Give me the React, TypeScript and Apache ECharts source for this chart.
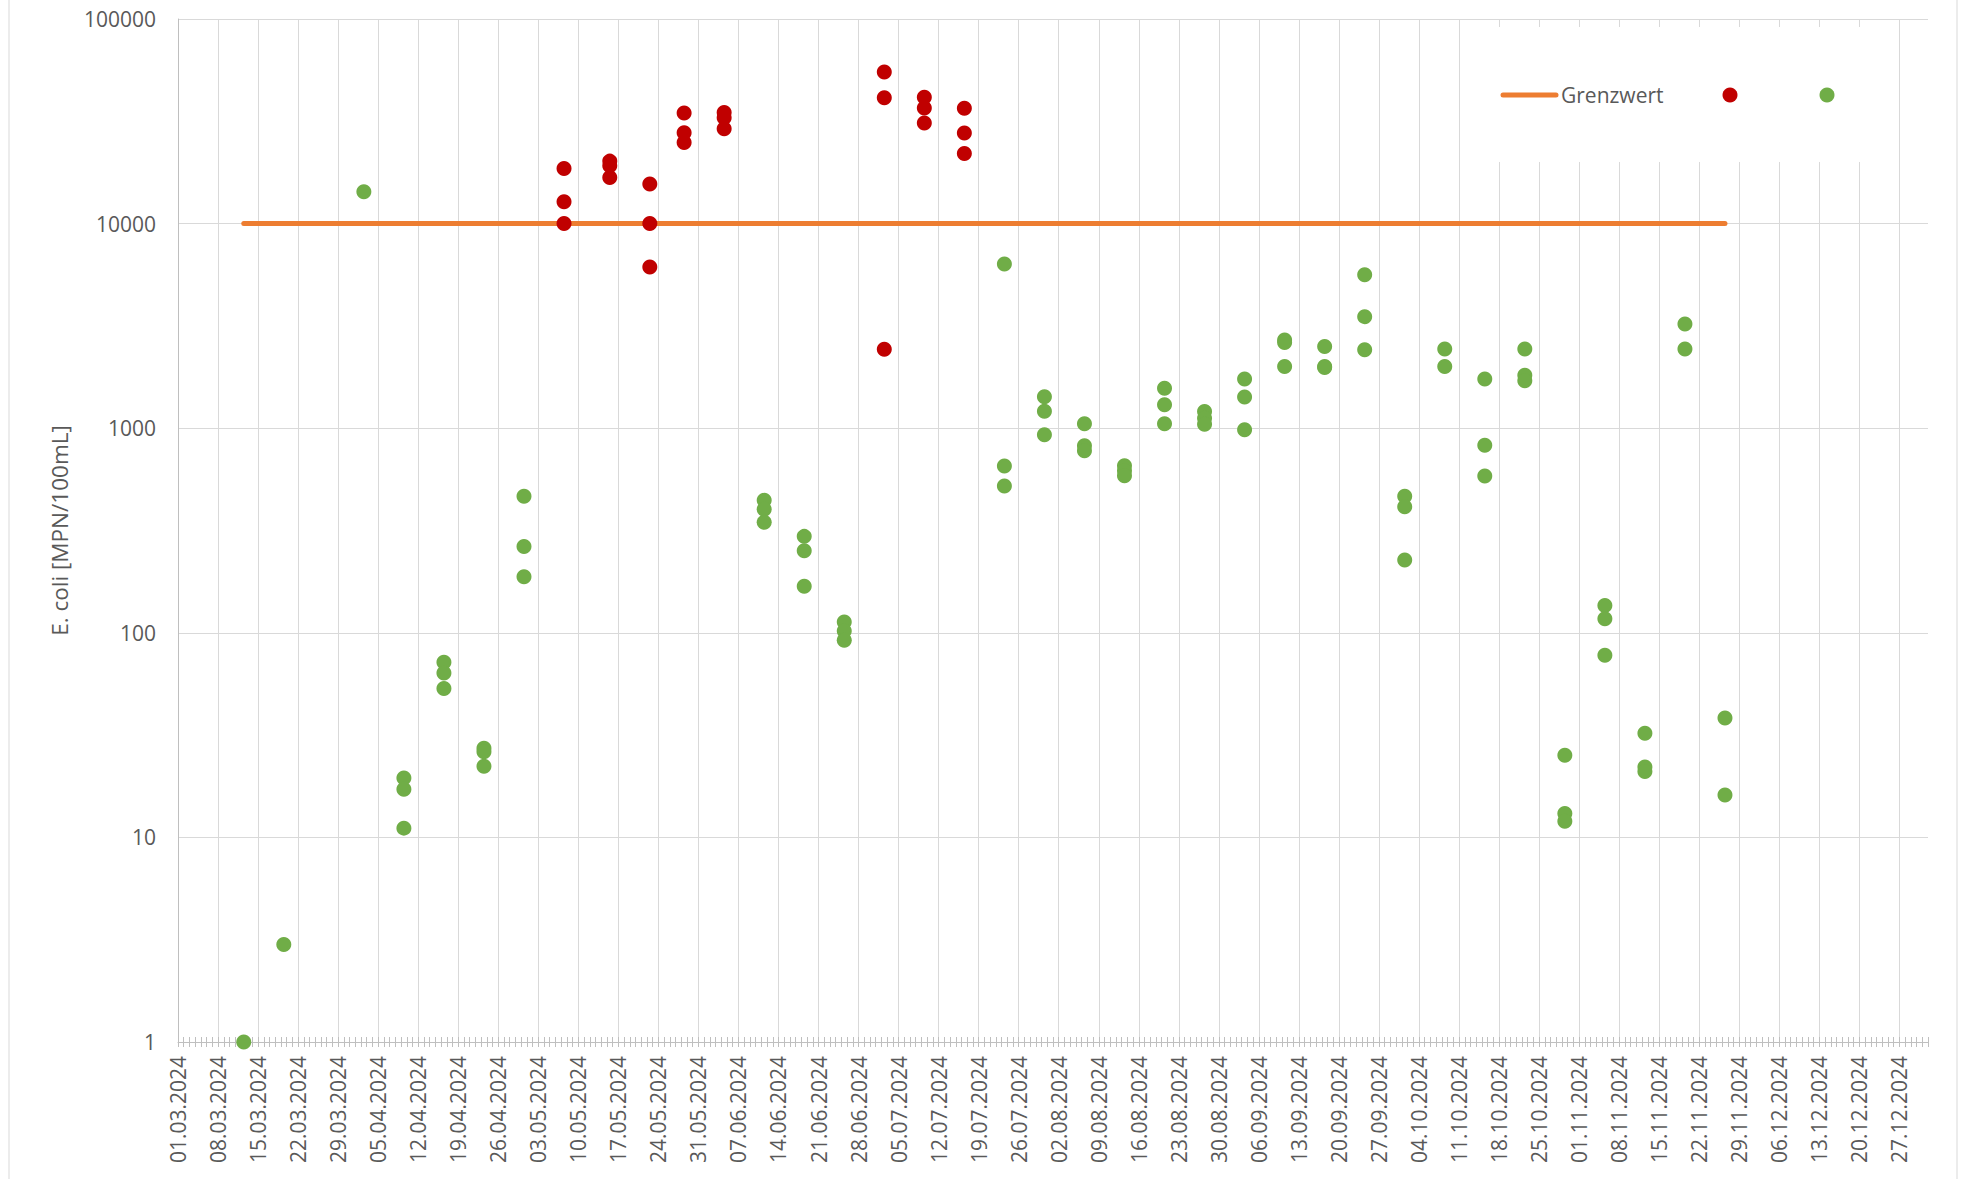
import { useEffect, useRef } from "react";
import * as echarts from "echarts";

const xStart = "01.03.2024";
const xEnd = "01.01.2025";
const weekStep = 7;
const yTicks = [1, 10, 100, 1000, 10000, 100000];
const yTitle = "E. coli [MPN/100mL]";
const limitName = "Grenzwert";
const limitValue = 10000;
const limitDates = ["12.03.2024", "26.11.2024"];

const redDates = [
  "07.05.2024", "15.05.2024", "22.05.2024", "28.05.2024",
  "04.06.2024", "02.07.2024", "09.07.2024", "16.07.2024",
];
const redValues = [
  [18600, 12800, 10000],
  [20200, 19200, 16800],
  [15600, 10000, 6130],
  [34700, 27800, 24900],
  [34900, 32900, 29100],
  [55100, 41200, 2430],
  [41400, 36700, 31000],
  [36600, 27700, 22000],
];

const greenDates = [
  "12.03.2024", "19.03.2024", "02.04.2024", "09.04.2024", "16.04.2024",
  "23.04.2024", "30.04.2024", "11.06.2024", "18.06.2024", "25.06.2024",
  "23.07.2024", "30.07.2024", "06.08.2024", "13.08.2024", "20.08.2024",
  "27.08.2024", "03.09.2024", "10.09.2024", "17.09.2024", "24.09.2024",
  "01.10.2024", "08.10.2024", "15.10.2024", "22.10.2024", "29.10.2024",
  "05.11.2024", "12.11.2024", "19.11.2024", "26.11.2024",
];
const greenValues = [
  [1],
  [3],
  [14300],
  [19.5, 17.2, 11.1],
  [71.7, 63.6, 53.4],
  [27.3, 26.2, 22.3],
  [465, 264, 188],
  [444, 402, 347],
  [296, 252, 169],
  [113, 102, 92],
  [6350, 654, 522],
  [1426, 1209, 929],
  [1052, 820, 775],
  [655, 620, 585],
  [1567, 1303, 1052],
  [1206, 1117, 1046],
  [1740, 1420, 983],
  [2700, 2620, 2000],
  [2510, 2000, 1980],
  [5625, 3510, 2420],
  [465, 413, 227],
  [2440, 2000],
  [1740, 825, 584],
  [2440, 1816, 1705],
  [25.2, 13.1, 12.0],
  [136, 117, 77.6],
  [32.3, 22.1, 21.0],
  [3230, 2440],
  [38.3, 16.1],
];

const DAY = 86400000;
function toUtc(s: string) {
  const [d, m, y] = s.split(".").map(Number);
  return Date.UTC(y, m - 1, d);
}
const origin = toUtc(xStart);
const totalDays = (toUtc(xEnd) - origin) / DAY;
// Excel date axis ("between tick marks"): a day's value sits in the middle of its day slot
const dayPos = (s: string) => (toUtc(s) - origin) / DAY + 0.5;
const pad = (n: number) => (n < 10 ? "0" + n : "" + n);
function fmtDay(v: number) {
  const d = new Date(origin + Math.round(v) * DAY);
  return pad(d.getUTCDate()) + "." + pad(d.getUTCMonth() + 1) + "." + d.getUTCFullYear();
}
function toPoints(dates: string[], vals: number[][]) {
  const out: number[][] = [];
  dates.forEach((d, i) => vals[i].forEach((v) => out.push([dayPos(d), v])));
  return out;
}

const FONT = "Open Sans";
const TXT = "#595959";
const GRID = "#d9d9d9";
const AXIS = "#bfbfbf";
const RED = "#C00000";
const GREEN = "#70AD47";
const ORANGE = "#ED7D31";

export default function App() {
  const ref = useRef<HTMLDivElement>(null);
  useEffect(() => {
    if (!ref.current) return;
    const chart = echarts.init(ref.current, null, { renderer: "svg" });
    const tickAxis = (inside: boolean) => ({
      type: "value",
      min: 0,
      max: totalDays,
      interval: 1,
      position: "bottom",
      axisLine: { show: false },
      axisTick: { show: true, inside, length: 5, lineStyle: { color: AXIS, width: 1 } },
      axisLabel: { show: false },
      splitLine: { show: false },
    });
    chart.setOption({
      animation: false,
      textStyle: { fontFamily: FONT },
      grid: { left: 178, right: 38, top: 19, bottom: 137 },
      xAxis: [
        {
          type: "value",
          min: 0,
          max: totalDays,
          interval: weekStep,
          position: "bottom",
          axisLine: { show: true, lineStyle: { color: AXIS, width: 1 } },
          axisTick: { show: false },
          splitLine: { show: true, showMaxLine: false, lineStyle: { color: GRID, width: 1 } },
          axisLabel: {
            rotate: 90,
            formatter: (v: number) => fmtDay(v),
            showMaxLabel: false,
            fontSize: 21,
            color: TXT,
            fontFamily: FONT,
            margin: 14,
          },
        },
        tickAxis(false),
        tickAxis(true),
      ],
      yAxis: {
        type: "log",
        logBase: 10,
        min: yTicks[0],
        max: yTicks[yTicks.length - 1],
        axisLine: { show: true, lineStyle: { color: AXIS, width: 1 } },
        axisTick: { show: false },
        splitLine: { show: true, lineStyle: { color: GRID, width: 1 } },
        axisLabel: {
          formatter: (v: number) => String(Math.round(v)),
          fontSize: 21,
          color: TXT,
          fontFamily: FONT,
          margin: 22,
        },
        name: yTitle,
        nameLocation: "middle",
        nameGap: 107,
        nameTextStyle: { fontSize: 22.5, color: TXT, fontFamily: FONT },
      },
      series: [
        {
          name: limitName,
          type: "line",
          xAxisIndex: 0,
          data: limitDates.map((d) => [dayPos(d), limitValue]),
          symbol: "none",
          lineStyle: { color: ORANGE, width: 5, cap: "round" },
          z: 2,
        },
        {
          name: "über Grenzwert",
          type: "scatter",
          xAxisIndex: 0,
          data: toPoints(redDates, redValues),
          symbolSize: 15,
          itemStyle: { color: RED, opacity: 1 },
          z: 3,
        },
        {
          name: "unter Grenzwert",
          type: "scatter",
          xAxisIndex: 0,
          data: toPoints(greenDates, greenValues),
          symbolSize: 15,
          itemStyle: { color: GREEN, opacity: 1 },
          z: 3,
        },
      ],
      graphic: [
        { type: "line", z: 1, shape: { x1: 9, y1: 0, x2: 9, y2: 1179 }, style: { stroke: GRID, lineWidth: 1 } },
        { type: "line", z: 1, shape: { x1: 1957, y1: 0, x2: 1957, y2: 1179 }, style: { stroke: GRID, lineWidth: 1 } },
        { type: "rect", z: 10, shape: { x: 1463, y: 27, width: 433, height: 135 }, style: { fill: "#ffffff" } },
        { type: "line", z: 11, shape: { x1: 1503, y1: 95, x2: 1556, y2: 95 }, style: { stroke: ORANGE, lineWidth: 5, lineCap: "round" } },
        { type: "text", z: 11, x: 1561, y: 95, style: { text: limitName, fontSize: 21, fontFamily: FONT, fill: TXT, verticalAlign: "middle", align: "left" } },
        { type: "circle", z: 11, shape: { cx: 1730, cy: 95, r: 7.5 }, style: { fill: RED } },
        { type: "circle", z: 11, shape: { cx: 1827, cy: 95, r: 7.5 }, style: { fill: GREEN } },
      ],
    });
    return () => chart.dispose();
  }, []);
  return (
    <div
      ref={ref}
      style={{ position: "fixed", left: 0, top: 0, width: 1966, height: 1179, background: "#ffffff" }}
    />
  );
}
